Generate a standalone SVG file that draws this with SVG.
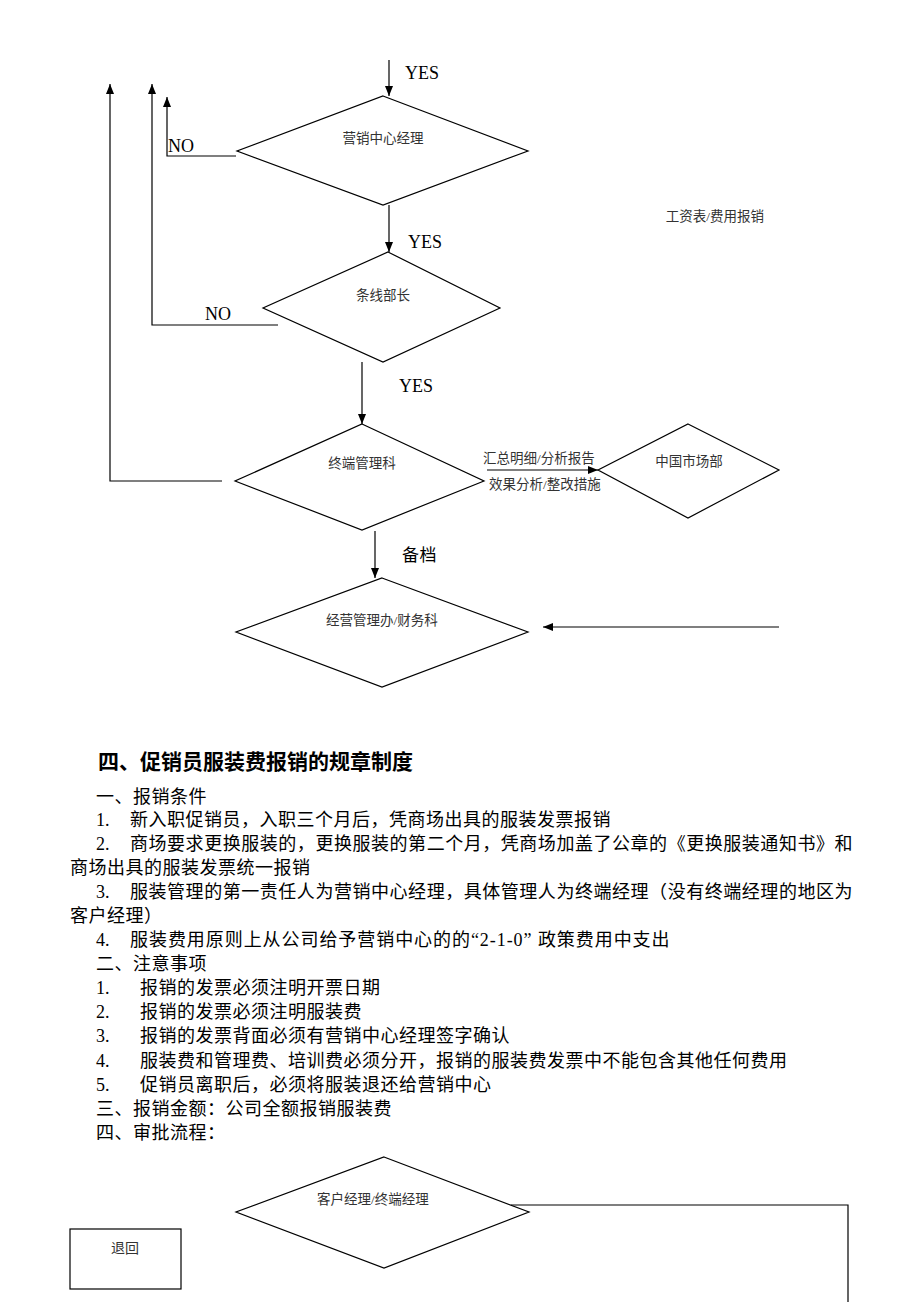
<svg xmlns="http://www.w3.org/2000/svg" width="920" height="1302" viewBox="0 0 920 1302">
<style>
.bg{fill:#fff}
.dia{fill:#fff;stroke:#000;stroke-width:1.2}
.con{fill:none;stroke:#000;stroke-width:1.2}
.lbl{font-family:"Liberation Serif","Noto Sans CJK SC",serif;font-size:13.5px;fill:#333;text-anchor:middle}
.en{font-family:"Liberation Serif",serif;font-size:18px;fill:#000}
.cn{font-family:"Liberation Serif","Noto Sans CJK SC",serif;font-size:18px;fill:#000;letter-spacing:0.5px}
.h{font-family:"Noto Sans CJK SC",sans-serif;font-size:21px;font-weight:bold;fill:#000}
.num{font-family:"Liberation Serif",serif;font-size:18px;fill:#000}
</style>
<defs>
<marker id="ah" markerUnits="userSpaceOnUse" markerWidth="10" markerHeight="8" refX="10" refY="4" orient="auto">
<path d="M0,0 L10,4 L0,8 z" fill="#000"/>
</marker>
</defs>
<rect class="bg" x="0" y="0" width="920" height="1302"/>

<g id="connectors">
<line class="con" x1="389" y1="60" x2="389" y2="96" marker-end="url(#ah)"/>
<line class="con" x1="389" y1="205" x2="389" y2="252" marker-end="url(#ah)"/>
<line class="con" x1="362" y1="362" x2="362" y2="424" marker-end="url(#ah)"/>
<line class="con" x1="375" y1="531" x2="375" y2="578" marker-end="url(#ah)"/>
<polyline class="con" points="236,156 167,156 167,97" marker-end="url(#ah)"/>
<polyline class="con" points="278,325 152,325 152,84" marker-end="url(#ah)"/>
<polyline class="con" points="222,481 110,481 110,84" marker-end="url(#ah)"/>
<line class="con" x1="487" y1="470" x2="598" y2="470" marker-end="url(#ah)"/>
<line class="con" x1="779" y1="627" x2="543" y2="627" marker-end="url(#ah)"/>
<polyline class="con" points="511,1205 848,1205 848,1302"/>
<text class="en" x="405" y="79">YES</text>
<text class="en" x="408" y="248">YES</text>
<text class="en" x="399" y="392">YES</text>
<text class="en" x="168" y="152">NO</text>
<text class="en" x="205" y="320">NO</text>
<text class="lbl" x="539" y="463">汇总明细/分析报告</text>
<text class="lbl" x="545" y="489">效果分析/整改措施</text>
<text class="cn" x="402" y="561" style="font-size:17px">备档</text>
<text class="lbl" x="715" y="221">工资表/费用报销</text>
</g>

<g id="n1">
<polygon class="dia" points="383,96 528,151 383,205 237,151"/>
<text class="lbl" x="383" y="143">营销中心经理</text>
</g>
<g id="n2">
<polygon class="dia" points="388,252 500,308 383,362 263,308"/>
<text class="lbl" x="383" y="300">条线部长</text>
</g>
<g id="n3">
<polygon class="dia" points="362,424 484,481 362,530 235,481"/>
<text class="lbl" x="362" y="468">终端管理科</text>
</g>
<g id="n4">
<polygon class="dia" points="688,424 779,470 688,518 598,470"/>
<text class="lbl" x="689" y="466">中国市场部</text>
</g>
<g id="n5">
<polygon class="dia" points="382,578 528,632 382,687 236,632"/>
<text class="lbl" x="382" y="625">经营管理办/财务科</text>
</g>

<g id="text-block">
<text class="h" x="98" y="769">四、促销员服装费报销的规章制度</text>
<text class="cn" x="96" y="803">一、报销条件</text>
<text class="num" x="96" y="826">1.</text>
<text class="cn" x="130" y="826">新入职促销员，入职三个月后，凭商场出具的服装发票报销</text>
<text class="num" x="96" y="850">2.</text>
<text class="cn" x="130" y="850" textLength="723" lengthAdjust="spacing">商场要求更换服装的，更换服装的第二个月，凭商场加盖了公章的《更换服装通知书》和</text>
<text class="cn" x="70" y="874">商场出具的服装发票统一报销</text>
<text class="num" x="96" y="898">3.</text>
<text class="cn" x="130" y="898" textLength="723" lengthAdjust="spacing">服装管理的第一责任人为营销中心经理，具体管理人为终端经理（没有终端经理的地区为</text>
<text class="cn" x="70" y="922">客户经理）</text>
<text class="num" x="96" y="946">4.</text>
<text class="cn" x="130" y="946" textLength="540" lengthAdjust="spacing">服装费用原则上从公司给予营销中心的的“2-1-0” 政策费用中支出</text>
<text class="cn" x="96" y="970">二、注意事项</text>
<text class="num" x="96" y="994">1.</text>
<text class="cn" x="140" y="994">报销的发票必须注明开票日期</text>
<text class="num" x="96" y="1018">2.</text>
<text class="cn" x="140" y="1018">报销的发票必须注明服装费</text>
<text class="num" x="96" y="1042">3.</text>
<text class="cn" x="140" y="1042">报销的发票背面必须有营销中心经理签字确认</text>
<text class="num" x="96" y="1067">4.</text>
<text class="cn" x="140" y="1067">服装费和管理费、培训费必须分开，报销的服装费发票中不能包含其他任何费用</text>
<text class="num" x="96" y="1091">5.</text>
<text class="cn" x="140" y="1091">促销员离职后，必须将服装退还给营销中心</text>
<text class="cn" x="96" y="1115">三、报销金额：公司全额报销服装费</text>
<text class="cn" x="96" y="1139">四、审批流程：</text>
</g>

<g id="n6">
<polygon class="dia" points="384,1157 529,1212 384,1268 236,1212"/>
<text class="lbl" x="373" y="1204">客户经理/终端经理</text>
</g>
<g id="n7">
<rect x="70" y="1229" width="111" height="60" fill="#fff" stroke="#000" stroke-width="1.2"/>
<text class="lbl" x="125" y="1253" style="font-size:14px">退回</text>
</g>
</svg>
